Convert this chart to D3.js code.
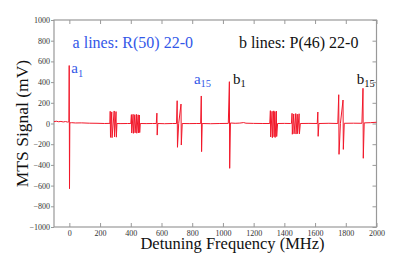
<!DOCTYPE html>
<html>
<head>
<meta charset="utf-8">
<script src="https://cdn.jsdelivr.net/npm/d3@7"></script>
<style>
  body { margin: 0; background: #fff; }
  svg text { font-family: "Liberation Serif", "Times New Roman", Times, serif; }
  .axis text { font-size: 8px; fill: #333; }
  .axis line { stroke: #999; }
  .axis path { display: none; }
</style>
</head>
<body>
<div id="chart"></div>
<script>
const width = 415;
const height = 255;
const margin = {top: 20, right: 38.5, bottom: 28, left: 54};

// detuning (MHz) and MTS signal (mV)
const detuning = [
  -100, -85, -70, -55, -40, -25, -12, -3,
  -1, 1, 3,
  15, 40, 80, 130, 180, 230, 258, 264,
  266, 268, 276, 278, 292, 294, 304, 306, 310,
  330, 380, 400,
  404, 406, 415, 417, 426, 428, 437, 439, 448, 450, 456, 458, 462,
  500, 540, 566,
  570, 572, 576,
  620, 670, 698,
  702, 704, 712, 727, 729, 735,
  780, 830, 855,
  859, 861, 865,
  920, 980, 1035,
  1042, 1044, 1049,
  1080, 1110, 1135, 1150, 1200, 1260, 1305,
  1309, 1311, 1320, 1322, 1331, 1333, 1338, 1340, 1348, 1350, 1356,
  1400, 1440, 1446,
  1450, 1452, 1461, 1463, 1474, 1476, 1484, 1486, 1496, 1498, 1504,
  1560, 1614,
  1618, 1620, 1625,
  1690, 1748,
  1754, 1756, 1765, 1782, 1784, 1790,
  1850, 1905,
  1912, 1914, 1920,
  1960, 2000
];
const mtsSignal = [
  18, 22, 17, 20, 15, 19, 14, 16,
  560, -630, 6,
  8, 5, 6, 3, 2, 0, 1, 0,
  118, -134, 112, -137, 121, -128, 115, -132, 0,
  -1, 0, 0,
  86, -92, 89, -95, 85, -90, 88, -94, 84, -91, 82, -88, 0,
  -1, 0, 0,
  100, -112, 0,
  -2, 0, 0,
  220, -230, 0, 188, -208, 0,
  -1, 0, 0,
  266, -272, 0,
  -2, 0, 1,
  404, -433, 5,
  2, 4, 9, 3, 1, 0, 0,
  124, -130, 118, -137, 122, -128, 115, -135, 120, -126, 0,
  1, 0, 0,
  98, -104, 92, -100, 96, -102, 90, -98, 94, -100, 0,
  1, 0,
  111, -124, 0,
  2, 0,
  278, -298, 0, 227, -250, 2,
  3, 2,
  340, -336, 6,
  8, 12
];

const xTicks = [0, 200, 400, 600, 800, 1000, 1200, 1400, 1600, 1800, 2000];
const yTicks = [-1000, -800, -600, -400, -200, 0, 200, 400, 600, 800, 1000];

// line labels: name, subscript, anchor (MHz, mV)
const labelNames = ["a", "a", "b", "b"];
const labelSubs = ["1", "15", "1", "15"];
const labelFreq = [13, 811, 1065, 1872];
const labelMv = [485, 382, 382, 382];

const svg = d3.select("#chart").append("svg")
  .attr("width", width)
  .attr("height", height);

const x = d3.scaleLinear().domain([-100, 2000]).range([margin.left, width - margin.right]);
const y = d3.scaleLinear().domain([-1000, 1000]).range([height - margin.bottom, margin.top]);
const fmt = d3.format("d");

// axes
svg.append("g").attr("class", "axis")
  .attr("transform", "translate(0," + y(-1000) + ")")
  .call(d3.axisBottom(x).tickValues(xTicks).tickSize(-4).tickPadding(3).tickFormat(fmt));
svg.append("g").attr("class", "axis")
  .attr("transform", "translate(0," + y(1000) + ")")
  .call(d3.axisTop(x).tickValues(xTicks).tickSize(-4).tickFormat(""));
svg.append("g").attr("class", "axis")
  .attr("transform", "translate(" + x(-100) + ",0)")
  .call(d3.axisLeft(y).tickValues(yTicks).tickSize(3).tickPadding(1).tickFormat(fmt));
svg.append("g").attr("class", "axis")
  .attr("transform", "translate(" + x(2000) + ",0)")
  .call(d3.axisRight(y).tickValues(yTicks).tickSize(-4).tickFormat(""));

svg.selectAll(".axis").attr("font-family", null);

svg.append("rect")
  .attr("x", x(-100)).attr("y", y(1000))
  .attr("width", x(2000) - x(-100)).attr("height", y(-1000) - y(1000))
  .attr("fill", "none").attr("stroke", "#999").attr("stroke-width", 1.2);

// signal trace
const line = d3.line()
  .x(function(d, i) { return x(detuning[i]); })
  .y(function(d) { return y(d); });

svg.append("path")
  .datum(mtsSignal)
  .attr("d", line)
  .attr("fill", "none")
  .attr("stroke", "#f2182a")
  .attr("stroke-width", 1);

// annotations
svg.append("text")
  .attr("x", x(21)).attr("y", y(726))
  .attr("font-size", 16)
  .attr("fill", "#3358e8")
  .text("a lines: R(50) 22-0");
svg.append("text")
  .attr("x", x(1104)).attr("y", y(726))
  .attr("font-size", 16)
  .attr("fill", "#111")
  .text("b lines: P(46) 22-0");

labelNames.forEach(function(n, i) {
  const t = svg.append("text")
    .attr("x", x(labelFreq[i])).attr("y", y(labelMv[i]))
    .attr("font-size", 15)
    .attr("fill", n == "a" ? "#3358e8" : "#111");
  t.append("tspan").text(n);
  t.append("tspan").attr("font-size", 10.5).attr("dy", 3.4).text(labelSubs[i]);
});

// axis titles
svg.append("text")
  .attr("x", 232.5).attr("y", 248.5)
  .attr("text-anchor", "middle")
  .attr("font-size", 16.5)
  .attr("fill", "#111")
  .text("Detuning Frequency (MHz)");
svg.append("text")
  .attr("transform", "translate(28," + y(0) + ") rotate(-90)")
  .attr("text-anchor", "middle")
  .attr("font-size", 17.5)
  .attr("fill", "#111")
  .text("MTS Signal (mV)");
</script>
</body>
</html>
